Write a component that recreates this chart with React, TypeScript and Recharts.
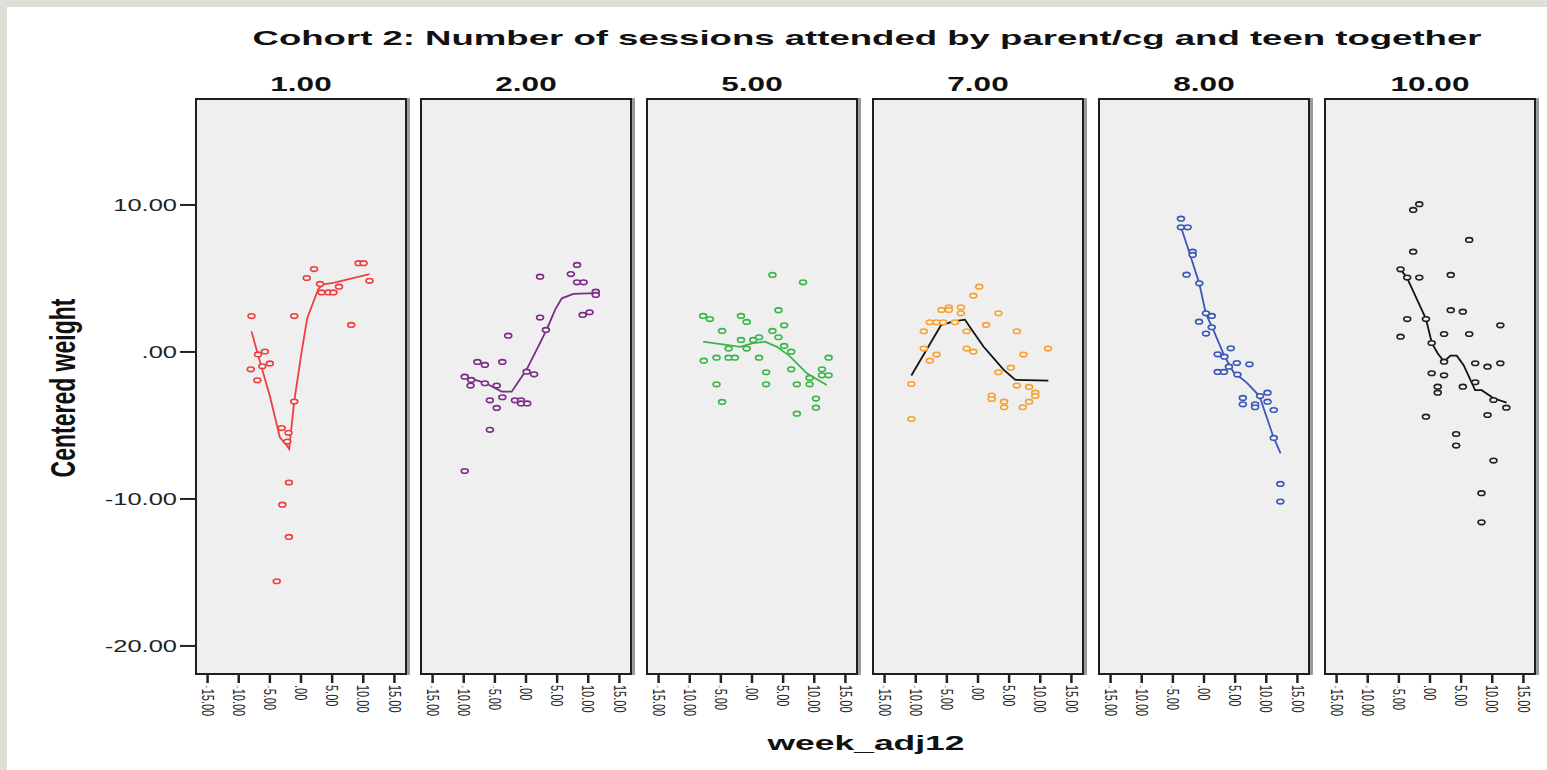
import { ComposedChart, Scatter, Line, XAxis, YAxis } from 'recharts'

const panelLabels = ['1.00', '2.00', '5.00', '7.00', '8.00', '10.00']
const xTicks = [-15, -10, -5, 0, 5, 10, 15]
const yTicks = [-20, -10, 0, 10]

// sessions = 1
const pts1 = [
  { x: -7.95, y: 2.44 }, { x: -1.08, y: 2.44 }, { x: 2.1, y: 5.64 }, { x: 0.92, y: 5.03 },
  { x: 3.06, y: 4.63 }, { x: 3.3, y: 4.05 }, { x: 4.4, y: 4.05 }, { x: 5.2, y: 4.05 },
  { x: 6.1, y: 4.44 }, { x: 9.25, y: 6.04 }, { x: 10.05, y: 6.04 }, { x: 11.0, y: 4.84 },
  { x: 8.06, y: 1.84 }, { x: -6.9, y: -0.17 }, { x: -5.8, y: 0.03 }, { x: -5.0, y: -0.78 },
  { x: -6.2, y: -0.98 }, { x: -8.06, y: -1.18 }, { x: -7.0, y: -1.93 }, { x: -1.08, y: -3.37 },
  { x: -3.1, y: -5.18 }, { x: -2.0, y: -5.5 }, { x: -2.2, y: -6.1 }, { x: -1.94, y: -8.88 },
  { x: -3.0, y: -10.39 }, { x: -1.94, y: -12.58 }, { x: -3.9, y: -15.6 },
]
const fit1 = [
  { x: -7.95, y: 1.4 }, { x: -6.9, y: -0.2 }, { x: -5.0, y: -3.0 }, { x: -3.4, y: -5.8 },
  { x: -2.4, y: -6.3 }, { x: -1.9, y: -6.6 }, { x: -1.1, y: -3.4 }, { x: 0.1, y: 0.0 },
  { x: 1.0, y: 2.3 }, { x: 2.8, y: 4.3 }, { x: 3.6, y: 4.6 }, { x: 5.2, y: 4.7 }, { x: 11.0, y: 5.3 },
]

// sessions = 2
const pts2 = [
  { x: 8.2, y: 5.92 }, { x: 2.26, y: 5.12 }, { x: 7.2, y: 5.3 }, { x: 8.2, y: 4.74 },
  { x: 9.25, y: 4.74 }, { x: 11.2, y: 4.1 }, { x: 11.2, y: 3.88 }, { x: 10.2, y: 2.7 },
  { x: 9.1, y: 2.52 }, { x: 2.26, y: 2.34 }, { x: 3.2, y: 1.5 }, { x: -2.85, y: 1.11 },
  { x: -7.8, y: -0.68 }, { x: -6.6, y: -0.88 }, { x: -3.8, y: -0.68 }, { x: -9.84, y: -1.68 },
  { x: -8.8, y: -1.9 }, { x: -8.9, y: -2.29 }, { x: -6.6, y: -2.13 }, { x: -4.7, y: -2.29 },
  { x: 0.1, y: -1.34 }, { x: 1.3, y: -1.52 }, { x: -3.8, y: -3.08 }, { x: -5.8, y: -3.29 },
  { x: -1.77, y: -3.29 }, { x: -0.8, y: -3.29 }, { x: -0.8, y: -3.5 }, { x: 0.2, y: -3.5 },
  { x: -4.7, y: -3.81 }, { x: -5.8, y: -5.3 }, { x: -9.84, y: -8.1 },
]
const fit2 = [
  { x: -9.8, y: -1.7 }, { x: -6.6, y: -2.1 }, { x: -3.9, y: -2.7 }, { x: -2.3, y: -2.7 },
  { x: 0.1, y: -1.2 }, { x: 2.0, y: 0.4 }, { x: 3.3, y: 1.5 }, { x: 4.7, y: 2.9 },
  { x: 5.75, y: 3.65 }, { x: 7.6, y: 3.95 }, { x: 11.2, y: 4.0 },
]

// sessions = 5
const pts3 = [
  { x: 3.28, y: 5.24 }, { x: 8.2, y: 4.74 }, { x: -7.85, y: 2.45 }, { x: -6.77, y: 2.24 },
  { x: -1.77, y: 2.45 }, { x: -0.86, y: 2.04 }, { x: 4.25, y: 2.84 }, { x: 5.16, y: 1.81 },
  { x: -4.8, y: 1.43 }, { x: 3.28, y: 1.43 }, { x: -1.77, y: 0.82 }, { x: 0.2, y: 0.82 },
  { x: 1.13, y: 1.0 }, { x: 4.25, y: 1.0 }, { x: -3.76, y: 0.23 }, { x: -0.86, y: 0.23 },
  { x: 5.16, y: 0.41 }, { x: 6.3, y: 0.02 }, { x: -7.74, y: -0.59 }, { x: -5.7, y: -0.39 },
  { x: -3.76, y: -0.39 }, { x: -2.74, y: -0.39 }, { x: 1.13, y: -0.39 }, { x: 12.3, y: -0.39 },
  { x: 6.3, y: -1.18 }, { x: 11.24, y: -1.18 }, { x: 2.26, y: -1.38 }, { x: 11.24, y: -1.59 },
  { x: 12.3, y: -1.59 }, { x: 9.25, y: -1.77 }, { x: -5.7, y: -2.2 }, { x: 2.26, y: -2.2 },
  { x: 7.2, y: -2.2 }, { x: 9.25, y: -2.2 }, { x: -4.8, y: -3.4 }, { x: 10.27, y: -3.17 },
  { x: 10.27, y: -3.79 }, { x: 7.2, y: -4.2 },
]
const fit3 = [
  { x: -7.85, y: 0.7 }, { x: -1.9, y: 0.35 }, { x: 0.2, y: 0.6 }, { x: 2.1, y: 0.7 },
  { x: 4.0, y: 0.35 }, { x: 6.1, y: -0.3 }, { x: 8.8, y: -1.45 }, { x: 12.0, y: -2.25 },
]

// sessions = 7
const pts4 = [
  { x: 0.2, y: 4.44 }, { x: -0.75, y: 3.83 }, { x: -4.68, y: 3.04 }, { x: -2.74, y: 3.04 },
  { x: -5.86, y: 2.86 }, { x: -4.68, y: 2.86 }, { x: -2.74, y: 2.63 }, { x: 3.28, y: 2.63 },
  { x: -7.74, y: 2.02 }, { x: -6.67, y: 2.02 }, { x: -5.6, y: 2.02 }, { x: -3.7, y: 2.02 },
  { x: -8.7, y: 1.41 }, { x: -1.83, y: 1.41 }, { x: 1.3, y: 1.84 }, { x: 6.24, y: 1.41 },
  { x: -8.7, y: 0.23 }, { x: -1.83, y: 0.23 }, { x: -0.75, y: 0.02 }, { x: -6.67, y: -0.18 },
  { x: -7.74, y: -0.59 }, { x: 7.3, y: -0.18 }, { x: 11.24, y: 0.23 }, { x: 3.28, y: -1.38 },
  { x: 5.27, y: -1.07 }, { x: -10.7, y: -2.18 }, { x: 6.24, y: -2.29 }, { x: 8.2, y: -2.38 },
  { x: 2.2, y: -2.97 }, { x: 2.2, y: -3.2 }, { x: 9.2, y: -2.77 }, { x: 9.2, y: -2.99 },
  { x: 4.2, y: -3.38 }, { x: 8.2, y: -3.38 }, { x: 4.2, y: -3.76 }, { x: 7.2, y: -3.76 },
  { x: -10.7, y: -4.56 },
]
const fit4 = [
  { x: -10.7, y: -1.6 }, { x: -5.9, y: 1.85 }, { x: -3.7, y: 2.1 }, { x: -2.1, y: 2.2 },
  { x: -1.3, y: 1.7 }, { x: 0.9, y: 0.35 }, { x: 4.1, y: -1.2 }, { x: 6.0, y: -1.9 },
  { x: 11.3, y: -1.95 },
]

// sessions = 8
const pts5 = [
  { x: -3.7, y: 9.07 }, { x: -3.7, y: 8.48 }, { x: -2.63, y: 8.48 }, { x: -1.83, y: 6.82 },
  { x: -1.83, y: 6.6 }, { x: -2.8, y: 5.26 }, { x: -0.75, y: 4.67 }, { x: 0.32, y: 2.63 },
  { x: 1.24, y: 2.45 }, { x: -0.8, y: 2.06 }, { x: 1.24, y: 1.68 }, { x: 0.32, y: 1.25 },
  { x: 4.3, y: 0.25 }, { x: 2.2, y: -0.16 }, { x: 3.28, y: -0.32 }, { x: 5.27, y: -0.75 },
  { x: 7.3, y: -0.84 }, { x: 4.0, y: -1.0 }, { x: 2.2, y: -1.36 }, { x: 3.2, y: -1.36 },
  { x: 5.37, y: -1.54 }, { x: 10.2, y: -2.77 }, { x: 9.0, y: -3.0 }, { x: 6.24, y: -3.13 },
  { x: 6.24, y: -3.56 }, { x: 8.2, y: -3.56 }, { x: 8.2, y: -3.76 }, { x: 10.2, y: -3.38 },
  { x: 11.2, y: -3.95 }, { x: 11.2, y: -5.85 }, { x: 12.26, y: -8.98 }, { x: 12.26, y: -10.18 },
]
const fit5 = [
  { x: -3.7, y: 8.5 }, { x: -2.3, y: 6.7 }, { x: -0.75, y: 4.65 }, { x: 0.3, y: 2.6 },
  { x: 1.5, y: 1.5 }, { x: 3.3, y: -0.3 }, { x: 4.7, y: -1.35 }, { x: 6.9, y: -2.1 },
  { x: 8.9, y: -3.0 }, { x: 11.2, y: -5.85 }, { x: 12.3, y: -6.9 },
]

// sessions = 10
const pts6 = [
  { x: -1.72, y: 10.05 }, { x: -2.7, y: 9.66 }, { x: 6.3, y: 7.62 }, { x: -2.7, y: 6.82 },
  { x: -4.73, y: 5.62 }, { x: -3.66, y: 5.06 }, { x: -1.72, y: 5.06 }, { x: 3.33, y: 5.24 },
  { x: 3.33, y: 2.84 }, { x: 5.27, y: 2.74 }, { x: 11.3, y: 1.81 }, { x: -3.66, y: 2.24 },
  { x: -0.65, y: 2.24 }, { x: -4.73, y: 1.04 }, { x: 2.26, y: 1.22 }, { x: 6.3, y: 1.22 },
  { x: 0.27, y: 0.61 }, { x: 2.26, y: -0.66 }, { x: 7.26, y: -0.77 }, { x: 9.24, y: -1.0 },
  { x: 11.3, y: -0.77 }, { x: 0.27, y: -1.45 }, { x: 2.26, y: -1.59 }, { x: 1.24, y: -2.36 },
  { x: 1.24, y: -2.77 }, { x: 5.27, y: -2.36 }, { x: 7.26, y: -2.06 }, { x: 10.2, y: -3.27 },
  { x: 12.26, y: -3.79 }, { x: -0.65, y: -4.4 }, { x: 9.24, y: -4.29 }, { x: 4.2, y: -5.58 },
  { x: 4.2, y: -6.37 }, { x: 10.2, y: -7.39 }, { x: 8.27, y: -9.61 }, { x: 8.27, y: -11.59 },
]
const fit6 = [
  { x: -4.7, y: 5.6 }, { x: -3.7, y: 5.05 }, { x: -0.65, y: 2.25 }, { x: 0.3, y: 0.6 },
  { x: 1.25, y: -0.1 }, { x: 2.25, y: -0.65 }, { x: 3.3, y: -0.25 }, { x: 4.3, y: -0.25 },
  { x: 5.4, y: -0.9 }, { x: 7.25, y: -2.6 }, { x: 8.3, y: -2.6 }, { x: 10.2, y: -3.15 },
  { x: 12.3, y: -3.45 },
]

const panelPoints = [pts1, pts2, pts3, pts4, pts5, pts6]
const panelFits = [fit1, fit2, fit3, fit4, fit5, fit6]
const dotColors = ['#ee3e3e', '#7d2b87', '#3bb54a', '#f7a230', '#3b58b8', '#222222']
const fitColors = ['#ee3e3e', '#7d2b87', '#3bb54a', '#111111', '#3b58b8', '#111111']

const FONT = '"Liberation Sans", Arial, sans-serif'
const PLOT_TOP = 100
const PLOT_H = 573
const PLOT_W = 208
const PANEL_LEFT = [197, 422, 648, 874, 1100, 1326]
const Y_AXIS_W = 100
const X_AXIS_H = 60
const SX = 1.5

const fmt = (v: number) => (v === 0 ? '.00' : Math.abs(v).toFixed(2))

function XTick(props: any) {
  const { x, y, payload } = props
  return (
    <g transform={`translate(${x},${y})`}>
      <text
        transform={`scale(${SX},1) rotate(90)`}
        fontSize={11}
        fontFamily={FONT}
        fill="#222"
        dy="0.35em"
        textAnchor="start"
      >
        {payload.value < 0 && <tspan fill="#b8b8b8">-</tspan>}
        {fmt(payload.value)}
      </text>
    </g>
  )
}

function YTick(props: any) {
  const { x, y, payload } = props
  return (
    <g transform={`translate(${x},${y}) scale(${SX},1)`}>
      <text fontSize={17} fontFamily={FONT} fill="#222" dy="0.35em" textAnchor="end">
        {(payload.value < 0 ? '-' : '') + fmt(payload.value)}
      </text>
    </g>
  )
}

function Panel({ i }: { i: number }) {
  const color = dotColors[i]
  const withY = i === 0
  const yW = withY ? Y_AXIS_W : 0
  const left = PANEL_LEFT[i]
  const dot = (p: any) => (
    <ellipse cx={p.cx} cy={p.cy} rx={3.5} ry={2.3} fill="#f3f3f3" stroke={color} strokeWidth={1.6} />
  )
  return (
    <>
      <div
        style={{
          position: 'absolute',
          left: left - 2,
          top: PLOT_TOP - 2,
          width: PLOT_W + 4,
          height: PLOT_H + 4,
          boxSizing: 'border-box',
          border: '2px solid #1e1e1e',
          background: '#efefef',
          boxShadow: '3px 0 0 #9c9c9c',
        }}
      />
      <div style={{ position: 'absolute', left: left - yW, top: PLOT_TOP - 4 }}>
        <ComposedChart
          width={yW + PLOT_W + 6}
          height={4 + PLOT_H + X_AXIS_H}
          margin={{ top: 4, right: 6, bottom: 0, left: 0 }}
        >
          <XAxis
            dataKey="x"
            type="number"
            domain={[-16.7, 16.7]}
            ticks={xTicks}
            allowDataOverflow
            axisLine={false}
            tickSize={10}
            tickMargin={2}
            tickLine={{ stroke: '#222', strokeWidth: 2.5 }}
            height={X_AXIS_H}
            tick={<XTick />}
            interval={0}
          />
          <YAxis
            dataKey="y"
            type="number"
            domain={[-21.84, 17.14]}
            ticks={yTicks}
            allowDataOverflow
            hide={!withY}
            width={Y_AXIS_W}
            axisLine={false}
            tickSize={17}
            tickMargin={3}
            tickLine={{ stroke: '#222', strokeWidth: 2 }}
            tick={<YTick />}
            interval={0}
          />
          <Scatter data={panelPoints[i]} dataKey="y" shape={dot} isAnimationActive={false} />
          <Line
            data={panelFits[i]}
            dataKey="y"
            type="linear"
            stroke={fitColors[i]}
            strokeWidth={1.8}
            dot={false}
            activeDot={false}
            isAnimationActive={false}
          />
        </ComposedChart>
      </div>
    </>
  )
}

export default function App() {
  return (
    <div
      style={{
        position: 'absolute',
        left: 0,
        top: 0,
        width: 1547,
        height: 770,
        background: '#ffffff',
        borderLeft: '7px solid #dfdfd9',
        borderTop: '7px solid #dfdfd9',
        boxSizing: 'border-box',
        overflow: 'hidden',
      }}
    >
      <div style={{ position: 'absolute', left: -7, top: -7, width: 1547, height: 770 }}>
        {panelLabels.map((_, i) => (
          <Panel key={i} i={i} />
        ))}
        <svg
          width={1547}
          height={770}
          style={{ position: 'absolute', left: 0, top: 0, pointerEvents: 'none' }}
        >
          <text
            x={867}
            y={45}
            textAnchor="middle"
            fontFamily={FONT}
            fontWeight="bold"
            fontSize={21}
            textLength={1229}
            lengthAdjust="spacingAndGlyphs"
            fill="#111"
          >
            Cohort 2: Number of sessions attended by parent/cg and teen together
          </text>
          {panelLabels.map((label, i) => (
            <g key={label} transform={`translate(${PANEL_LEFT[i] + PLOT_W / 2},91) scale(${SX},1)`}>
              <text textAnchor="middle" fontFamily={FONT} fontWeight="bold" fontSize={21} fill="#111">
                {label}
              </text>
            </g>
          ))}
          <g transform={`translate(75,388) scale(${SX},1) rotate(-90)`}>
            <text textAnchor="middle" fontFamily={FONT} fontWeight="bold" fontSize={23} fill="#111">
              Centered weight
            </text>
          </g>
          <text
            x={866}
            y={750}
            textAnchor="middle"
            fontFamily={FONT}
            fontWeight="bold"
            fontSize={21}
            textLength={197}
            lengthAdjust="spacingAndGlyphs"
            fill="#111"
          >
            week_adj12
          </text>
        </svg>
      </div>
    </div>
  )
}
